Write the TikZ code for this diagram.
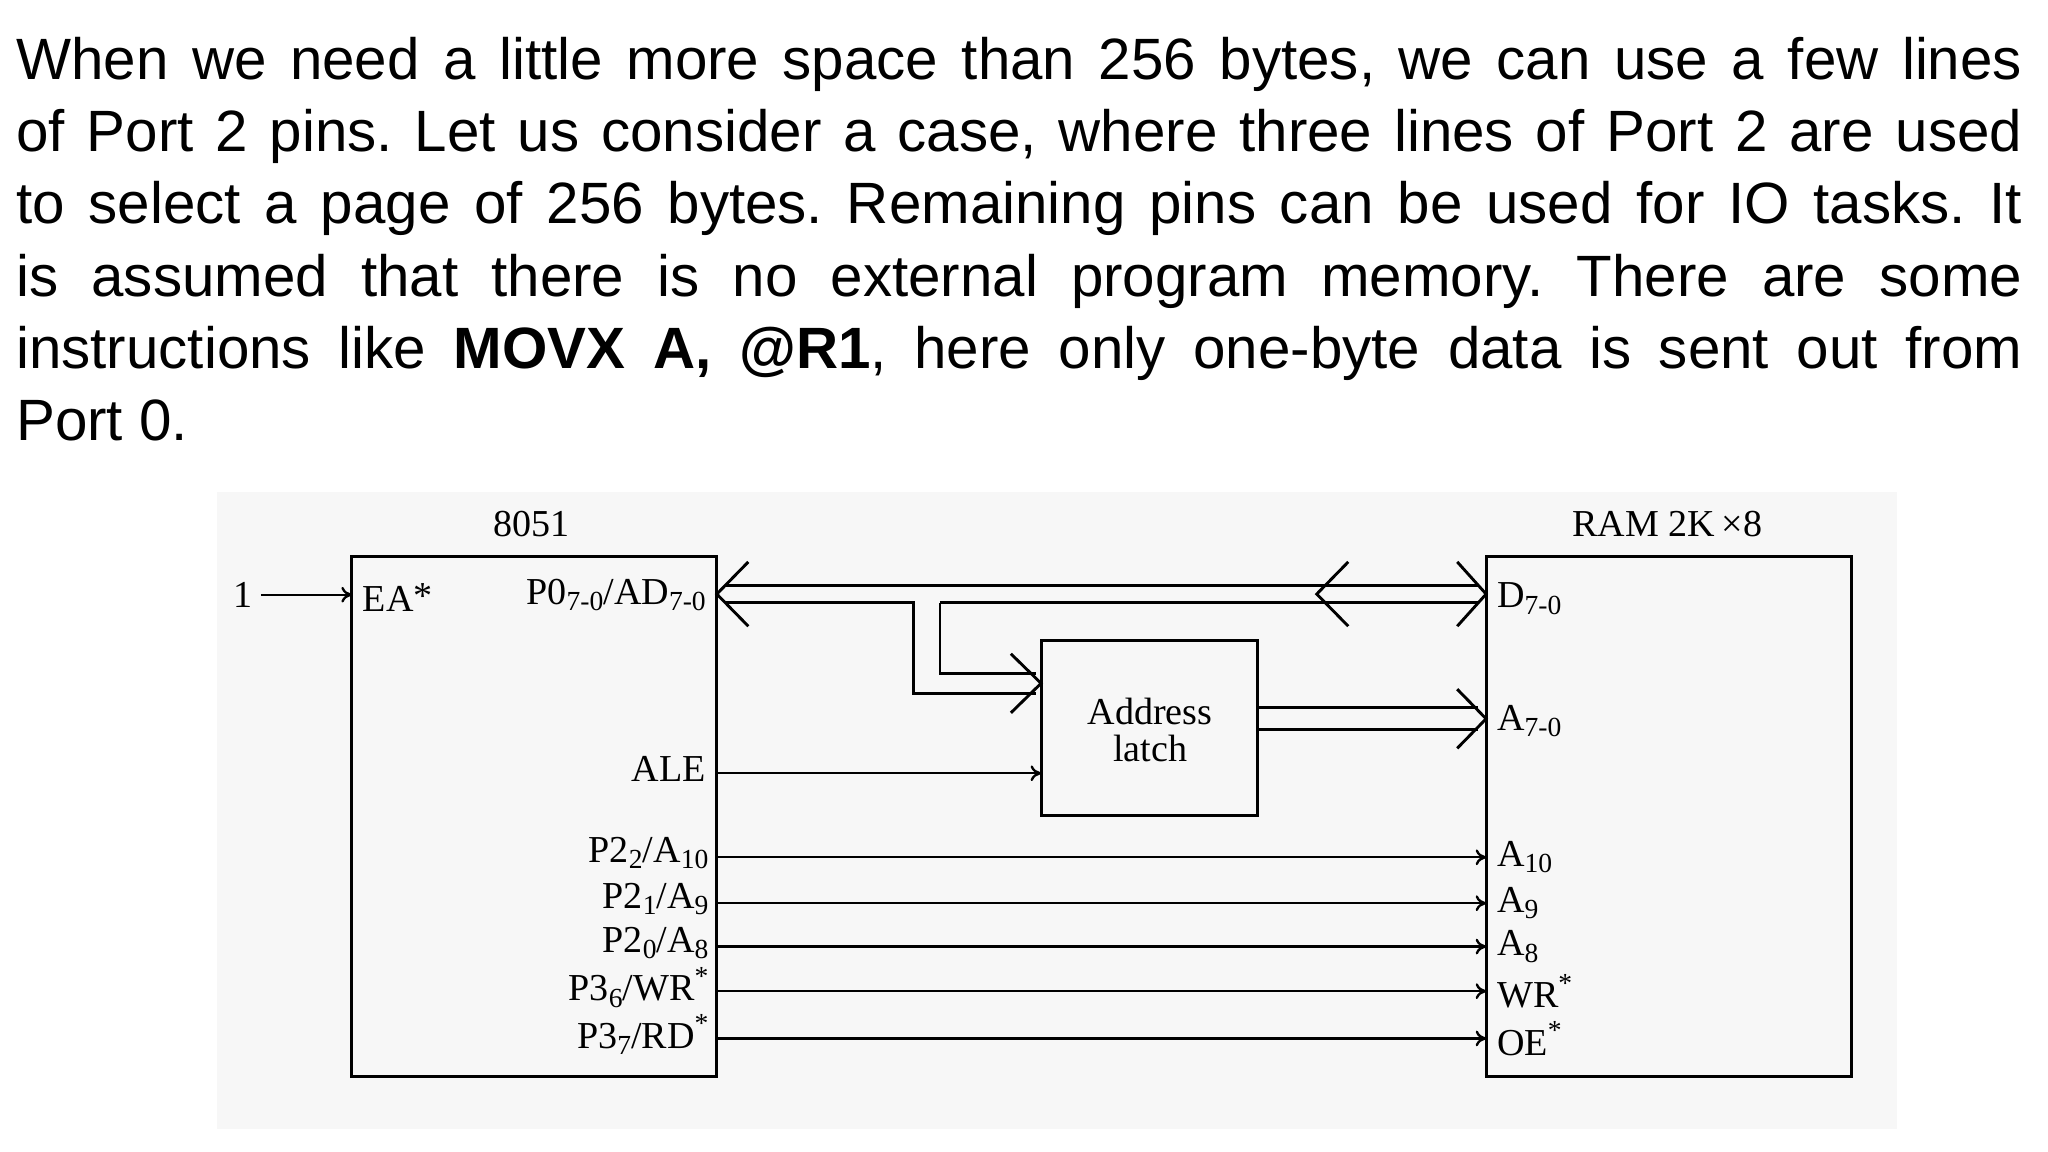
\documentclass[tikz,border=0pt]{standalone}
\usepackage{fontspec}
\usetikzlibrary{arrows.meta}
\setmainfont{Liberation Sans}
\newfontfamily\dserif{Liberation Serif}
\newcommand{\sbs}[1]{\raisebox{-0.35ex}{\fontsize{10.5pt}{10pt}\selectfont #1}}
\newcommand{\sps}[1]{\raisebox{0.9ex}{\fontsize{10.5pt}{10pt}\selectfont #1}}
\begin{document}
\begin{tikzpicture}[x=0.5pt,y=-0.5pt,
  blk/.style={draw,line width=1.1pt},
  bus/.style={line width=1.1pt},
  sig/.style={line width=0.9pt,-{To[length=4pt,width=6pt]}},
  lab/.style={font=\dserif\fontsize{14.5pt}{15pt}\selectfont,inner sep=0pt}]
\useasboundingbox (0,0) rectangle (1560,877.5);
\node[anchor=north west,text width=764pt,align=justify,inner sep=0pt,
  font=\fontsize{22.2pt}{27.5pt}\selectfont] (para) at (12,28)
{\hyphenpenalty=10000\frenchspacing When we need a little more space than 256 bytes, we can use a few lines\linebreak of Port 2 pins. Let us consider a case, where three lines of Port 2 are used\linebreak to select a page of 256 bytes. Remaining pins can be used for IO tasks. It\linebreak is assumed that there is no external program memory. There are some\linebreak instructions like \textbf{MOVX A, @R1}, here only one-byte data is sent out from\linebreak Port~0.\par};
\fill[black!3] (165,375) rectangle (1445,860);
% boxes
\draw[blk] (268,424) rectangle (546,820);
\draw[blk] (1132,424) rectangle (1410,820);
\draw[blk] (793,488) rectangle (958,621);
\node[lab] (t8051) at (405,399) {8051};
\node[lab] (tram) at (1270,399) {RAM 2K\,×8};
\node[lab,align=center] (latch) at (876,556) {Address\\[-1pt]latch};
% EA
\node[lab] (one) at (185,453) {1};
\coordinate (ea) at (268,453);
\draw[sig] (one.east)++(6,0) -- (ea);
\node[lab,anchor=west] (eal) at (276,455) {EA\raisebox{0.2ex}{*}};
\node[lab,anchor=east] (p0) at (538,453) {P0\sbs{7-0}/AD\sbs{7-0}};
\node[lab,anchor=west] (d70) at (1140,456) {D\sbs{7-0}};
% bus
\draw[bus] (552,446) -- (1126,446);
\draw[bus] (552,459) -- (696,459) -- (696,528) -- (789,528);
\draw[bus] (716,459) -- (1126,459);
\draw[bus] (716,459) -- (716,513) -- (789,513);
\draw[bus] (570,428) -- (546,452.5) -- (570,477);
\draw[bus] (1110,428) -- (1132,452.5) -- (1110,477);
\draw[bus] (1027,428) -- (1003,452.5) -- (1027,477);
\draw[bus] (770,498) -- (793,520.5) -- (770,543);
% latch out
\draw[bus] (958,539) -- (1126,539);
\draw[bus] (958,556) -- (1126,556);
\draw[bus] (1110,525) -- (1132,547.5) -- (1110,570);
\node[lab,anchor=west] (a70) at (1140,549) {A\sbs{7-0}};
% ALE
\node[lab,anchor=east] (ale) at (538,586) {ALE};
\draw[sig] (546,589) -- (793,589);
% signals
\foreach \y/\l/\r [count=\i] in {653/{P2\sbs{2}/A\sbs{10}}/{A\sbs{10}},
  688/{P2\sbs{1}/A\sbs{9}}/{A\sbs{9}},
  721/{P2\sbs{0}/A\sbs{8}}/{A\sbs{8}},
  755/{P3\sbs{6}/WR\sps{*}}/{WR\sps{*}},
  791/{P3\sbs{7}/RD\sps{*}}/{OE\sps{*}}}{
  \node[lab,anchor=east] (l\i) at (540,\y-3) {\l};
  \node[lab,anchor=west] (r\i) at (1140,\y) {\r};
  \draw[sig] (546,\y) -- (1132,\y);
}
\end{tikzpicture}
\end{document}
